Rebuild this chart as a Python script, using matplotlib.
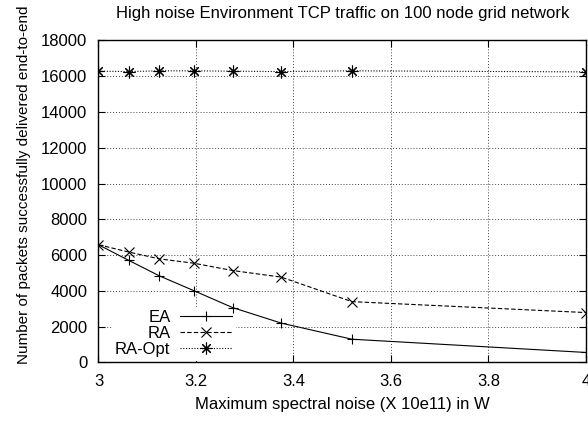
import matplotlib
matplotlib.use("Agg")
import matplotlib.pyplot as plt

plt.rcParams["font.family"] = ["Liberation Sans", "DejaVu Sans"]

# noise levels (x 10e11 W)
noise = [3.0, 3.0625, 3.125, 3.195, 3.275, 3.375, 3.52, 4.0]

# packets delivered end-to-end
ea = [6580, 5700, 4840, 4020, 3070, 2200, 1300, 560]
ra = [6580, 6170, 5790, 5550, 5140, 4770, 3400, 2790]
ra_opt = [16280, 16260, 16300, 16300, 16280, 16260, 16300, 16240]

fig = plt.figure(figsize=(5.88, 4.21), dpi=100)
ax = fig.add_axes([0.1675, 0.139, 0.829, 0.765])

ax.plot(noise, ea, color="black", lw=0.8, ls="-", marker="+", ms=7, mew=0.8, label="EA", zorder=3)
ax.plot(noise, ra, color="black", lw=0.8, ls=(0, (4, 2)), marker="x", ms=7.5, mew=0.8, label="RA",
        zorder=3)
ax.plot(noise, ra_opt, color="black", lw=0.8, ls=(0, (1, 1.5)), marker=(8, 2, 0), ms=8.5, mew=0.8,
        label="RA-Opt", zorder=3)

ax.set_xlim(3, 4)
ax.set_ylim(0, 18000)
ax.set_xticks([3, 3.2, 3.4, 3.6, 3.8, 4])
ax.set_xticklabels(["3", "3.2", "3.4", "3.6", "3.8", "4"])
ax.set_yticks(range(0, 18001, 2000))
ax.grid(True, color="#444444", ls=(0, (1, 2)), lw=0.7)
ax.tick_params(direction="in", top=True, right=True, labelsize=12, length=5, pad=8)
for s in ax.spines.values():
    s.set_linewidth(1.0)

ax.set_title("High noise Environment TCP traffic on 100 node grid network", fontsize=12, pad=16)
ax.set_xlabel("Maximum spectral noise (X 10e11) in W", fontsize=12, labelpad=6)
ax.set_ylabel("Number of packets successfully delivered end-to-end", fontsize=11)
ax.yaxis.set_label_coords(-0.1385, 0.551)

leg = ax.legend(loc="lower left", bbox_to_anchor=(0.010, -0.019), markerfirst=False, frameon=True,
                fontsize=12, handlelength=3.1, labelspacing=0.05, borderpad=0.2,
                handletextpad=0.6, fancybox=False, edgecolor="white", framealpha=1.0)
for t in leg.get_texts():
    t.set_ha("right")
leg._legend_box.align = "right"
leg.set_zorder(2)

fig.savefig("out.png", dpi=100)
